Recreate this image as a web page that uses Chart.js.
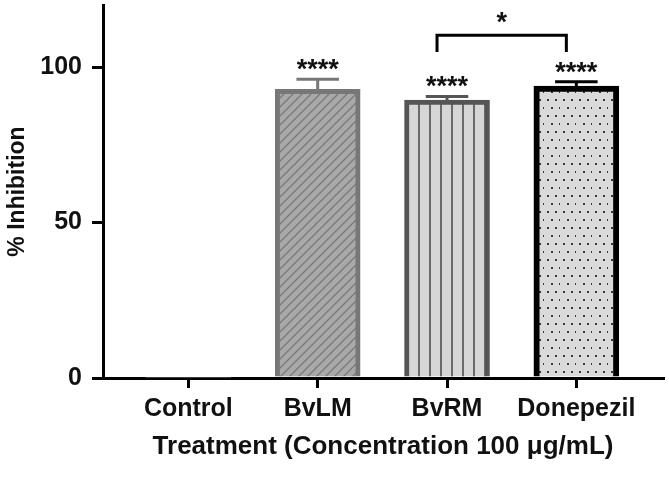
<!DOCTYPE html>
<html>
<head>
<meta charset="utf-8">
<script src="https://cdn.jsdelivr.net/npm/chart.js@4.4.1/dist/chart.umd.min.js"></script>
<style>
  html, body { margin: 0; padding: 0; background: #fff; }
  #wrap { width: 669px; height: 482px; }
</style>
</head>
<body>
<div id="wrap"><canvas id="c" width="669" height="482"></canvas></div>
<script>
// ---- data ----
const categories = ['Control', 'BvLM', 'BvRM', 'Donepezil'];
const meanInhibition = [0, 92.9, 89.4, 93.9];
const semInhibition = [0, 3.2, 1.2, 1.4];
const significance = ['', '****', '****', '****'];
const yTickValues = [0, 50, 100];
const comparisonFrom = 2;
const comparisonTo = 3;
const comparisonLevel = 110.3;
const comparisonDrop = 5.4;
const comparisonLabel = '*';
const yAxisTitle = '% Inhibition';
const xAxisTitle = 'Treatment (Concentration 100 \u03bcg/mL)';

// ---- styles ----
const FONT = '"Liberation Sans", Arial, sans-serif';

function makePattern(w, h, draw) {
  const c = document.createElement('canvas');
  c.width = w; c.height = h;
  const g = c.getContext('2d');
  draw(g, w, h);
  return document.getElementById('c').getContext('2d').createPattern(c, 'repeat');
}
const hatchPattern = makePattern(9, 9, (g, w, h) => {
  g.fillStyle = '#a9a9a9'; g.fillRect(0, 0, w, h);
  g.strokeStyle = '#7a7a7a'; g.lineWidth = 1.3;
  g.beginPath();
  g.moveTo(-1, 10); g.lineTo(10, -1);
  g.moveTo(-5.5, 5.5); g.lineTo(5.5, -5.5);
  g.moveTo(3.5, 14.5); g.lineTo(14.5, 3.5);
  g.stroke();
});
const stripePattern = makePattern(11, 4, (g, w, h) => {
  g.fillStyle = '#d6d6d6'; g.fillRect(0, 0, w, h);
  g.fillStyle = '#6a6a6a'; g.fillRect(0, 0, 2, h);
});
const dotPattern = makePattern(16, 16, (g, w, h) => {
  g.fillStyle = '#dadada'; g.fillRect(0, 0, w, h);
  g.fillStyle = '#3a3a3a';
  [[3, 3], [11, 3], [7, 11], [15, 11]].forEach(([x, y]) => g.fillRect(x, y, 2, 2));
});
const fills = ['#ffffff', hatchPattern, stripePattern, dotPattern];
const borders = ['#000000', '#777777', '#555555', '#000000'];
const borderWidths = [0, 5, 5, 6];

const annotations = {
  id: 'annotations',
  afterDatasetsDraw(chart) {
    const ctx = chart.ctx;
    const xs = chart.scales.x, ys = chart.scales.y;
    const barW = 85;
    ctx.save();
    meanInhibition.forEach((m, i) => {
      const x = xs.getPixelForValue(i);
      if (semInhibition[i] > 0) {
        const yb = ys.getPixelForValue(m);
        const yt = ys.getPixelForValue(m + semInhibition[i]);
        ctx.strokeStyle = borders[i];
        ctx.lineWidth = 3;
        ctx.beginPath();
        ctx.moveTo(x, yb); ctx.lineTo(x, yt);
        ctx.moveTo(x - barW * 0.25, yt); ctx.lineTo(x + barW * 0.25, yt);
        ctx.stroke();
      }
      if (significance[i]) {
        const yt = ys.getPixelForValue(m + semInhibition[i]);
        ctx.fillStyle = '#111';
        ctx.font = 'bold 27px ' + FONT;
        ctx.textAlign = 'center';
        ctx.textBaseline = 'alphabetic';
        ctx.fillText(significance[i], x, yt - 14 + 13);
      }
    });
    // comparison bracket
    const shift = -10;
    const x1 = xs.getPixelForValue(comparisonFrom) + shift;
    const x2 = xs.getPixelForValue(comparisonTo) + shift;
    const yTop = ys.getPixelForValue(comparisonLevel);
    const yLow = ys.getPixelForValue(comparisonLevel - comparisonDrop);
    ctx.strokeStyle = '#000';
    ctx.lineWidth = 3;
    ctx.beginPath();
    ctx.moveTo(x1, yLow); ctx.lineTo(x1, yTop); ctx.lineTo(x2, yTop); ctx.lineTo(x2, yLow);
    ctx.stroke();
    ctx.fillStyle = '#111';
    ctx.font = 'bold 27px ' + FONT;
    ctx.textAlign = 'center';
    ctx.textBaseline = 'alphabetic';
    ctx.fillText(comparisonLabel, (x1 + x2) / 2, yTop - 17 + 13);
    ctx.restore();
  }
};

new Chart(document.getElementById('c'), {
  type: 'bar',
  data: {
    datasets: [{
      data: categories.map((c, i) => ({ x: i, y: meanInhibition[i] })),
      backgroundColor: fills,
      borderColor: borders,
      borderWidth: borderWidths,
      borderSkipped: 'start',
      barThickness: 85
    }]
  },
  options: {
    responsive: false,
    animation: false,
    events: [],
    layout: { padding: { left: 0, right: 6, top: 5, bottom: 0 } },
    plugins: { legend: { display: false }, tooltip: { enabled: false } },
    scales: {
      x: {
        type: 'linear',
        min: -0.66,
        max: 3.67,
        offset: false,
        grid: { display: true, drawOnChartArea: false, drawTicks: true, tickLength: 10, lineWidth: 3, color: '#000', offset: false },
        border: { display: true, color: '#000', width: 3 },
        afterBuildTicks(scale) { scale.ticks = categories.map((c, i) => ({ value: i })); },
        afterFit(scale) { scale.height = 104; scale.paddingLeft = 0; scale.paddingRight = 0; },
        ticks: {
          autoSkip: false, maxRotation: 0,
          color: '#111', padding: 6,
          font: { family: FONT, size: 25, weight: 'bold' },
          callback: (v) => categories[v]
        },
        title: {
          display: true, text: xAxisTitle, color: '#111',
          font: { family: FONT, size: 26, weight: 'bold' },
          padding: { top: 0, bottom: 20 }
        }
      },
      y: {
        min: 0, max: 120,
        grid: { display: true, drawOnChartArea: false, drawTicks: true, tickLength: 11, lineWidth: 3, color: '#000' },
        border: { display: true, color: '#000', width: 3 },
        afterBuildTicks(scale) { scale.ticks = yTickValues.map(v => ({ value: v })); },
        afterFit(scale) { scale.width = 103; scale.paddingTop = 0; scale.paddingBottom = 0; },
        ticks: {
          color: '#111', padding: 10,
          font: { family: FONT, size: 25, weight: 'bold' }
        },
        title: {
          display: true, text: yAxisTitle, color: '#111',
          font: { family: FONT, size: 23, weight: 'bold' },
          padding: { top: 4, bottom: 0 }
        }
      }
    }
  },
  plugins: [annotations]
});
</script>
</body>
</html>
